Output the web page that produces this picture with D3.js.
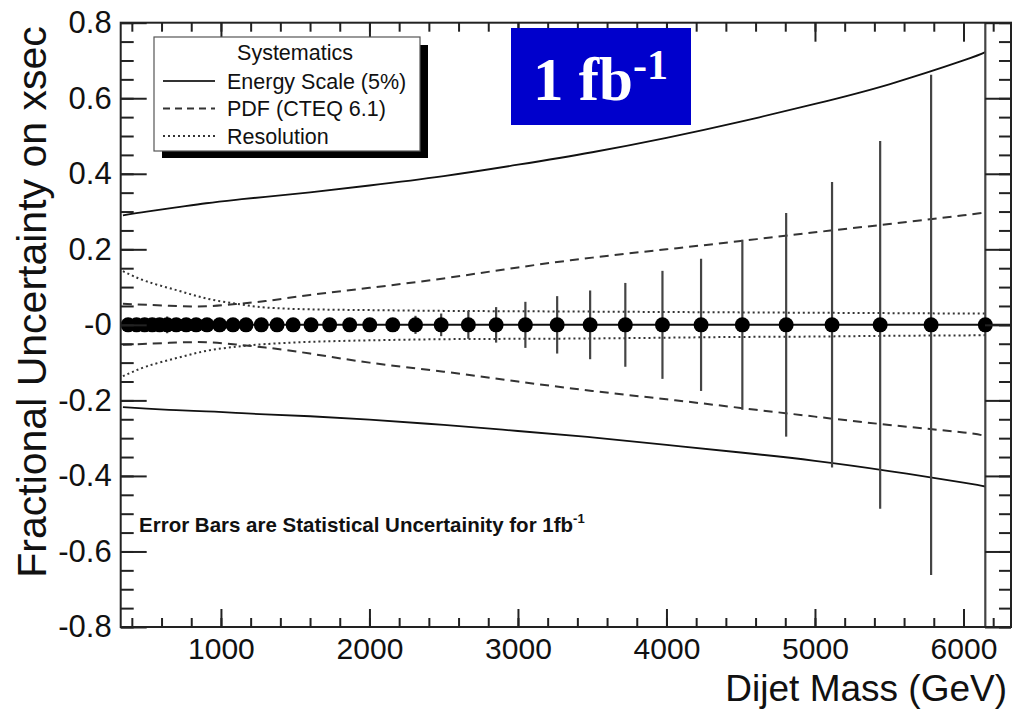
<!DOCTYPE html>
<html>
<head>
<meta charset="utf-8">
<script src="https://cdn.jsdelivr.net/npm/d3@7"></script>
<style>
  html, body { margin: 0; padding: 0; background: #fff; }
  svg { display: block; }
  text { font-family: "Liberation Sans", Arial, Helvetica, sans-serif; fill: #111; }
</style>
</head>
<body>
<svg id="chart" width="1021" height="709"></svg>
<script>
// Dijet mass bin centres (GeV) and statistical fractional uncertainty for 1 fb^-1
const massGeV = [375, 432, 486, 537, 587, 638, 699, 766, 833, 906, 991, 1081, 1169, 1272, 1378,
  1486, 1607, 1732, 1867, 2002, 2157, 2310, 2483, 2666, 2853, 3050, 3264, 3486, 3723, 3973,
  4233, 4511, 4806, 5115, 5439, 5782, 6147];
const statErr = [0.002, 0.002, 0.002, 0.002, 0.003, 0.022, 0.003, 0.003, 0.004, 0.004, 0.005, 0.005, 0.006, 0.006, 0.007,
  0.008, 0.009, 0.010, 0.011, 0.012, 0.016, 0.024, 0.030, 0.037, 0.047, 0.061, 0.076, 0.091, 0.111, 0.143,
  0.175, 0.225, 0.296, 0.378, 0.487, 0.662, 1.20];

// Systematic uncertainty bands, sampled along the mass axis
const curveMass  = [340, 500, 700, 900, 1100, 1300, 1600, 2000, 2500, 3000, 3500, 4000, 4500, 5000, 5500, 6000, 6147];
const energyUp   = [0.290, 0.300, 0.311, 0.322, 0.331, 0.339, 0.351, 0.369, 0.394, 0.424, 0.457, 0.495, 0.538, 0.585, 0.637, 0.700, 0.722];
const energyDown = [-0.218, -0.222, -0.226, -0.229, -0.233, -0.237, -0.242, -0.251, -0.265, -0.281, -0.298, -0.318, -0.338, -0.360, -0.387, -0.418, -0.428];
const pdfUp      = [0.056, 0.053, 0.050, 0.049, 0.055, 0.063, 0.079, 0.098, 0.123, 0.152, 0.178, 0.200, 0.222, 0.245, 0.267, 0.290, 0.298];
const pdfDown    = [-0.053, -0.050, -0.047, -0.046, -0.052, -0.060, -0.076, -0.100, -0.124, -0.150, -0.175, -0.197, -0.220, -0.243, -0.265, -0.285, -0.295];
const resUp      = [0.142, 0.115, 0.092, 0.070, 0.056, 0.046, 0.041, 0.039, 0.037, 0.036, 0.035, 0.034, 0.033, 0.032, 0.031, 0.030, 0.030];
const resDown    = [-0.136, -0.110, -0.088, -0.069, -0.058, -0.051, -0.045, -0.041, -0.038, -0.037, -0.036, -0.034, -0.032, -0.031, -0.029, -0.028, -0.027];

// Axis ticks
const xMajorTicks = [1000, 2000, 3000, 4000, 5000, 6000];
const xMinorTicks = d3.range(400, 6300, 200);
const yMajorTicks = [-0.8, -0.6, -0.4, -0.2, 0, 0.2, 0.4, 0.6, 0.8];
const yTickLabels = ["-0.8", "-0.6", "-0.4", "-0.2", "-0", "0.2", "0.4", "0.6", "0.8"];
const yMinorTicks = d3.range(-0.8, 0.8001, 0.05).map(v => +v.toFixed(2));

const legendItems = [
  { label: "Energy Scale (5%)", dash: null },
  { label: "PDF (CTEQ 6.1)", dash: "7,5" },
  { label: "Resolution", dash: "2,3" }
];

const svg = d3.select("#chart");
const plotLeft = 120.7, plotRight = 1011, plotTop = 22.7, plotBottom = 627;

const x = d3.scaleLinear().domain([325, 6320]).range([plotLeft, plotRight]);
const y = d3.scaleLinear().domain([-0.8, 0.8]).range([plotBottom, plotTop]);

svg.append("defs").append("clipPath").attr("id", "plotClip")
  .append("rect").attr("x", plotLeft).attr("y", plotTop)
  .attr("width", plotRight - plotLeft).attr("height", plotBottom - plotTop);

const plot = svg.append("g").attr("clip-path", "url(#plotClip)");

// Systematic curves
const line = d3.line().x((d, i) => x(curveMass[i])).y(d => y(d)).curve(d3.curveNatural);
const curves = [
  { data: energyUp, dash: null, color: "#111", w: 1.8 },
  { data: energyDown, dash: null, color: "#111", w: 1.8 },
  { data: pdfUp, dash: "9,6", color: "#333", w: 2 },
  { data: pdfDown, dash: "9,6", color: "#333", w: 2 },
  { data: resUp, dash: "2,3", color: "#333", w: 2 },
  { data: resDown, dash: "2,3", color: "#333", w: 2 }
];
plot.selectAll("path.sys").data(curves).join("path")
  .attr("class", "sys")
  .attr("d", c => line(c.data))
  .attr("fill", "none")
  .attr("stroke", c => c.color)
  .attr("stroke-width", c => c.w)
  .attr("stroke-dasharray", c => c.dash);

// Zero reference line
plot.append("line")
  .attr("x1", plotLeft).attr("x2", plotRight)
  .attr("y1", y(0)).attr("y2", y(0))
  .attr("stroke", "#111").attr("stroke-width", 2);

// Statistical error bars
const pts = massGeV.map((m, i) => ({ m, e: statErr[i] }));
plot.selectAll("line.err").data(pts).join("line")
  .attr("class", "err")
  .attr("x1", d => x(d.m)).attr("x2", d => x(d.m))
  .attr("y1", d => y(d.e)).attr("y2", d => y(-d.e))
  .attr("stroke", "#444").attr("stroke-width", 2.2);

// Points at zero
plot.selectAll("circle.pt").data(pts).join("circle")
  .attr("class", "pt")
  .attr("cx", d => x(d.m)).attr("cy", y(0))
  .attr("r", 7.5).attr("fill", "#000");

// Axes: ticks drawn inward on all four sides
function styleAxis(g) {
  g.select(".domain").remove();
  g.selectAll(".tick line").attr("stroke", "#222").attr("stroke-width", 2);
}
svg.append("g").attr("transform", `translate(0,${plotBottom})`)
  .call(d3.axisBottom(x).tickValues(xMinorTicks).tickSize(-9).tickFormat(""))
  .call(styleAxis);
svg.append("g").attr("transform", `translate(0,${plotBottom})`)
  .call(d3.axisBottom(x).tickValues(xMajorTicks).tickSize(-18).tickPadding(11).tickFormat(d3.format("d")))
  .call(styleAxis)
  .call(g => g.selectAll("text").attr("font-size", 30).attr("fill", "#111")
    .style("font-family", "'Liberation Sans', Arial, sans-serif"));
svg.append("g").attr("transform", `translate(0,${plotTop})`)
  .call(d3.axisTop(x).tickValues(xMinorTicks).tickSize(-9).tickFormat(""))
  .call(styleAxis);
svg.append("g").attr("transform", `translate(0,${plotTop})`)
  .call(d3.axisTop(x).tickValues(xMajorTicks).tickSize(-19).tickFormat(""))
  .call(styleAxis);

svg.append("g").attr("transform", `translate(${plotLeft},0)`)
  .call(d3.axisLeft(y).tickValues(yMinorTicks).tickSize(-13).tickFormat(""))
  .call(styleAxis);
svg.append("g").attr("transform", `translate(${plotLeft},0)`)
  .call(d3.axisLeft(y).tickValues(yMajorTicks).tickSize(-26).tickPadding(9)
    .tickFormat((d, i) => yTickLabels[i]))
  .call(styleAxis)
  .call(g => g.selectAll("text").attr("font-size", 31).attr("fill", "#111")
    .style("font-family", "'Liberation Sans', Arial, sans-serif"));
svg.append("g").attr("transform", `translate(${plotRight},0)`)
  .call(d3.axisRight(y).tickValues(yMinorTicks).tickSize(-12).tickFormat(""))
  .call(styleAxis);
svg.append("g").attr("transform", `translate(${plotRight},0)`)
  .call(d3.axisRight(y).tickValues(yMajorTicks).tickSize(-26).tickFormat(""))
  .call(styleAxis);

// Frame
svg.append("rect")
  .attr("x", plotLeft).attr("y", plotTop)
  .attr("width", plotRight - plotLeft).attr("height", plotBottom - plotTop)
  .attr("fill", "none").attr("stroke", "#222").attr("stroke-width", 2);

// Axis titles
svg.append("text")
  .attr("x", 1007).attr("y", 701)
  .attr("text-anchor", "end")
  .attr("font-size", 37)
  .text("Dijet Mass (GeV)");
svg.append("text")
  .attr("transform", "translate(46,302) rotate(-90)")
  .attr("text-anchor", "middle")
  .attr("font-size", 41)
  .text("Fractional Uncertainty on xsec");

// Legend with drop shadow
const lg = svg.append("g");
lg.append("rect").attr("x", 162).attr("y", 45).attr("width", 266).attr("height", 113).attr("fill", "#000");
lg.append("rect").attr("x", 154).attr("y", 37).attr("width", 266).attr("height", 114)
  .attr("fill", "#fff").attr("stroke", "#555").attr("stroke-width", 1.2);
lg.append("text").attr("x", 295).attr("y", 60).attr("text-anchor", "middle")
  .attr("font-size", 21.5).attr("fill", "#222").text("Systematics");
const rows = lg.selectAll("g.row").data(legendItems).join("g").attr("class", "row")
  .attr("transform", (d, i) => `translate(0,${81 + i * 27.5})`);
rows.append("line").attr("x1", 163).attr("x2", 215).attr("y1", 0).attr("y2", 0)
  .attr("stroke", "#333").attr("stroke-width", 1.8)
  .attr("stroke-dasharray", d => d.dash);
rows.append("text").attr("x", 227).attr("y", 7.5)
  .attr("font-size", 21.5).attr("fill", "#222").text(d => d.label);

// Luminosity badge
svg.append("rect").attr("x", 511).attr("y", 28).attr("width", 180).attr("height", 97)
  .attr("fill", "#0000cc");
const badge = svg.append("text").attr("x", 533).attr("y", 100)
  .style("font-family", "'Liberation Serif', 'Times New Roman', serif")
  .attr("font-weight", "bold").attr("font-size", 61).style("fill", "#fff");
badge.append("tspan").style("fill", "#fff").text("1 fb");
badge.append("tspan").style("fill", "#fff").attr("font-size", 42).attr("dy", -21).text("-1");

// Note on error bars
const note = svg.append("text").attr("x", 139).attr("y", 532)
  .attr("font-weight", "bold").attr("font-size", 20.5).attr("fill", "#111");
note.append("tspan").text("Error Bars are Statistical Uncertainity for 1fb");
note.append("tspan").attr("font-size", 13).attr("dy", -9).text("-1");
</script>
</body>
</html>
